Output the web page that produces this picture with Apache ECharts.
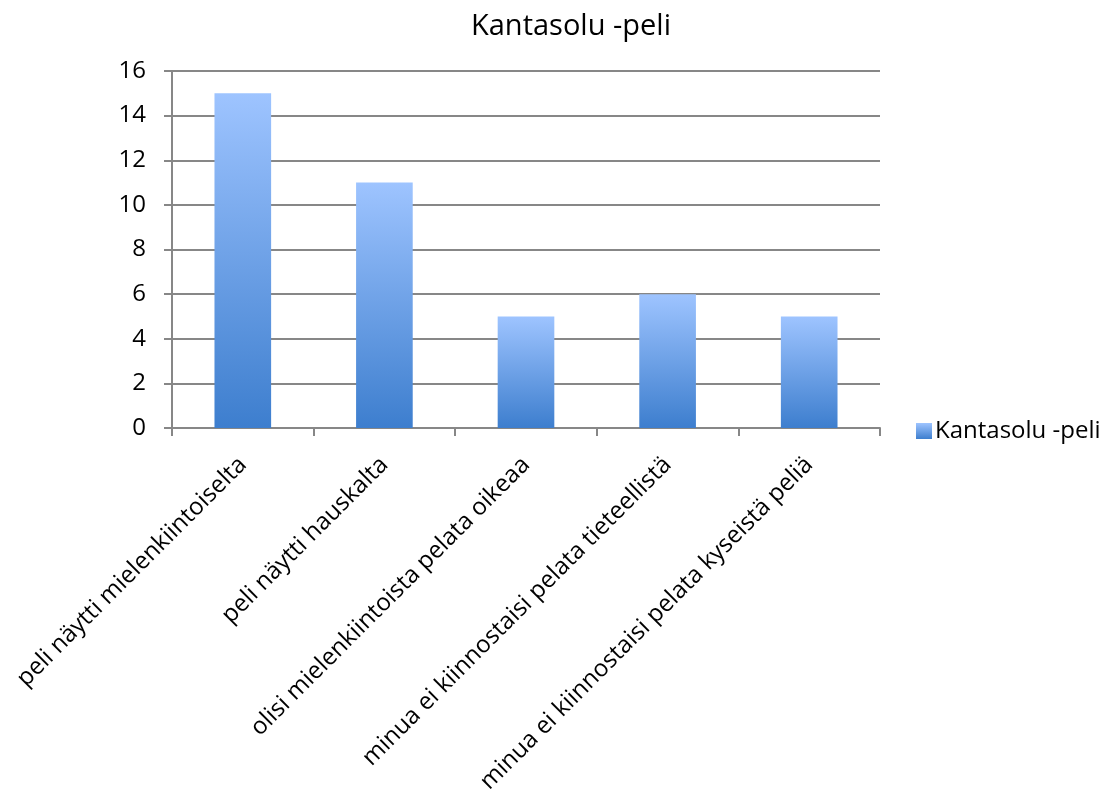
<!DOCTYPE html>
<html>
<head>
<meta charset="utf-8">
<script src="https://cdn.jsdelivr.net/npm/echarts@6/dist/echarts.min.js"></script>
<style>
html,body{margin:0;padding:0;background:#fff;}
#chart{width:1107px;height:792px;}
</style>
</head>
<body>
<div id="chart"></div>
<script>
const titleText = "Kantasolu -peli";
const seriesName = "Kantasolu -peli";
const categories = [
  "peli näytti mielenkiintoiselta",
  "peli näytti hauskalta",
  "olisi mielenkiintoista pelata oikeaa",
  "minua ei kiinnostaisi pelata tieteellistä",
  "minua ei kiinnostaisi pelata kyseistä peliä"
];
const values = [15, 11, 5, 6, 5];
const yTicks = { min: 0, max: 16, interval: 2 };

const FONT = "Open Sans";
const chart = echarts.init(document.getElementById('chart'));
const grad = new echarts.graphic.LinearGradient(0, 0, 0, 1, [
  { offset: 0, color: '#9EC4FF' },
  { offset: 1, color: '#3D7ECE' }
]);
chart.setOption({
  animation: false,
  backgroundColor: '#ffffff',
  title: {
    text: titleText,
    left: 566, top: 7, textAlign: 'center',
    textStyle: { fontFamily: FONT, fontSize: 29, fontWeight: 'normal', color: '#000' }
  },
  legend: {
    data: [seriesName],
    left: 911, top: 414,
    itemWidth: 16, itemHeight: 16, itemGap: 6,
    icon: 'rect',
    textStyle: { fontFamily: FONT, fontSize: 24, color: '#000', padding: [0,0,0,-2] }
  },
  grid: { left: 172, right: 227, top: 71, bottom: 364, containLabel: false, outerBoundsMode: 'none' },
  xAxis: {
    type: 'category',
    data: categories,
    axisLine: { show: true, lineStyle: { color: '#878787', width: 2 } },
    axisTick: { show: true, length: 8, lineStyle: { color: '#878787', width: 2 } },
    axisLabel: { rotate: 45, interval: 0, margin: 33, fontFamily: FONT, fontSize: 24, color: '#000' }
  },
  yAxis: {
    type: 'value',
    min: yTicks.min, max: yTicks.max, interval: yTicks.interval,
    axisLine: { show: true, lineStyle: { color: '#878787', width: 2 } },
    axisTick: { show: true, length: 8, lineStyle: { color: '#878787', width: 2 } },
    splitLine: { show: true, lineStyle: { color: '#878787', width: 2 } },
    axisLabel: { margin: 26, fontFamily: FONT, fontSize: 24, color: '#000' }
  },
  series: [{
    name: seriesName,
    type: 'bar',
    data: values,
    barWidth: '40%',
    itemStyle: { color: grad }
  }]
});
</script>
</body>
</html>
